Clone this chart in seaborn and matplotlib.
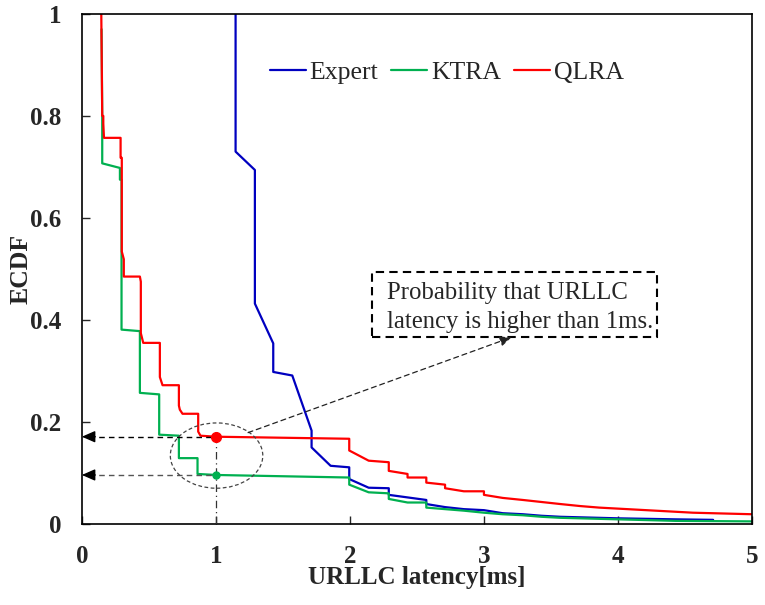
import numpy as np
import pandas as pd
import matplotlib
matplotlib.use("Agg")
import matplotlib.pyplot as plt
import seaborn as sns
from matplotlib.patches import Ellipse, Rectangle

# ---------------- data ----------------
qlra_x = [0.145, 0.152, 0.160, 0.160, 0.165, 0.289, 0.289, 0.298, 0.298, 0.313, 0.313,
          0.433, 0.440, 0.440, 0.458, 0.582, 0.582, 0.602, 0.724, 0.724, 0.731, 0.751,
          0.868, 0.868, 0.885, 1.000, 1.995, 1.995, 2.140, 2.290, 2.290, 2.430, 2.430,
          2.570, 2.570, 2.710, 2.710, 2.850, 3.000, 3.000, 3.140, 3.290, 3.430, 3.570,
          3.720, 3.860, 4.000, 4.280, 4.560, 5.000]
qlra_y = [1.000, 0.800, 0.800, 0.785, 0.757, 0.757, 0.718, 0.718, 0.534, 0.519, 0.485,
          0.485, 0.475, 0.374, 0.355, 0.355, 0.288, 0.272, 0.272, 0.232, 0.224, 0.216,
          0.216, 0.181, 0.173, 0.171, 0.167, 0.144, 0.124, 0.121, 0.104, 0.098, 0.091,
          0.091, 0.081, 0.077, 0.070, 0.064, 0.064, 0.057, 0.051, 0.047, 0.043, 0.039,
          0.035, 0.032, 0.030, 0.026, 0.022, 0.019]

ktra_x = [0.147, 0.152, 0.152, 0.284, 0.284, 0.296, 0.296, 0.433, 0.433, 0.577, 0.577,
          0.724, 0.724, 0.863, 0.863, 1.000, 1.995, 1.995, 2.140, 2.290, 2.290, 2.430,
          2.570, 2.570, 2.710, 2.850, 3.000, 3.140, 3.290, 3.430, 3.570, 4.000, 4.430, 5.000]
ktra_y = [0.970, 0.800, 0.707, 0.698, 0.675, 0.675, 0.381, 0.378, 0.257, 0.254, 0.175,
          0.173, 0.129, 0.129, 0.098, 0.096, 0.091, 0.077, 0.062, 0.060, 0.049, 0.042,
          0.042, 0.032, 0.029, 0.026, 0.022, 0.019, 0.017, 0.014, 0.012, 0.009, 0.006, 0.005]

expert_x = [1.147, 1.147, 1.291, 1.291, 1.428, 1.428, 1.570, 1.714, 1.714, 1.856, 1.995,
            1.995, 2.140, 2.290, 2.290, 2.430, 2.570, 2.570, 2.710, 2.850, 3.000, 3.140,
            3.290, 3.430, 3.570, 4.000, 4.430, 4.710]
expert_y = [1.000, 0.730, 0.694, 0.432, 0.354, 0.298, 0.291, 0.183, 0.150, 0.114, 0.111,
            0.088, 0.071, 0.070, 0.057, 0.052, 0.047, 0.039, 0.033, 0.029, 0.027, 0.021,
            0.019, 0.016, 0.014, 0.011, 0.009, 0.008]

series_names = ["Expert", "KTRA", "QLRA"]
series_colors = ["#0000C0", "#00B050", "#FF0000"]

highlight_x = 1.0
qlra_at_1 = 0.171
ktra_at_1 = 0.096

x_ticks = [0, 1, 2, 3, 4, 5]
y_ticks = [0, 0.2, 0.4, 0.6, 0.8, 1.0]
y_tick_labels = ["0", "0.2", "0.4", "0.6", "0.8", "1"]

note_text = "Probability that URLLC\nlatency is higher than 1ms."

# ---------------- build frame ----------------
frames = []
for name, xs, ys in [("Expert", expert_x, expert_y), ("KTRA", ktra_x, ktra_y), ("QLRA", qlra_x, qlra_y)]:
    df = pd.DataFrame({"x": xs, "y": ys, "series": name})
    df["order"] = np.arange(len(xs))
    frames.append(df)
data = pd.concat(frames, ignore_index=True)

sns.set_style("ticks")
plt.rcParams["font.family"] = ["Liberation Serif", "DejaVu Serif"]

fig = plt.figure(figsize=(7.65, 6.05), dpi=100)
ax = fig.add_axes([0.107, 0.134, 0.876, 0.843])

sns.lineplot(data=data, x="x", y="y", hue="series", hue_order=series_names,
             palette=series_colors, sort=False, estimator=None, units="series",
             linewidth=1.6, ax=ax, legend=True)

# highlight markers
ax.plot([highlight_x], [qlra_at_1], "o", color="#FF0000", markersize=7, zorder=5)
ax.plot([highlight_x], [ktra_at_1], "o", color="#00B050", markersize=5, zorder=5)

# vertical dash-dot guide
ax.plot([highlight_x, highlight_x], [0, qlra_at_1], color="#333333", lw=0.9,
        linestyle=(0, (6, 3, 1, 3)), zorder=3)

# horizontal dashed guides with arrowheads at y-axis
for yv, col in [(qlra_at_1, "black"), (ktra_at_1, "#555555")]:
    ax.plot([0.05, highlight_x], [yv, yv], color=col, lw=1.0, linestyle=(0, (4, 3)), zorder=3)
    ax.annotate("", xy=(0, yv), xytext=(0.1, yv),
                arrowprops=dict(arrowstyle="-|>,head_length=0.8,head_width=0.35",
                                color="black", lw=1.0, shrinkA=0, shrinkB=0), zorder=4)

# ellipse
ax.add_patch(Ellipse((1.005, 0.134), 0.69, 0.128, fill=False, edgecolor="#444444",
                     lw=0.9, linestyle=(0, (3, 2)), zorder=4))

# pointer arrow to note
ax.annotate("", xy=(3.206, 0.366), xytext=(1.24, 0.179),
            arrowprops=dict(arrowstyle="-|>,head_length=0.7,head_width=0.3",
                            color="#222222", lw=0.9, linestyle=(0, (4, 3)),
                            shrinkA=0, shrinkB=0), zorder=8)

# note box
ax.add_patch(Rectangle((2.164, 0.366), 2.127, 0.128, fc="white", ec="black", lw=1.5,
                       linestyle=(0, (4, 2.5)), zorder=6))
ax.text(2.276, 0.384, note_text, ha="left", va="baseline", multialignment="left",
        fontsize=17.8, linespacing=1.4, zorder=7)

ax.set_xlim(0, 5)
ax.set_ylim(0, 1)
ax.set_xticks(x_ticks)
ax.set_xticklabels([str(v) for v in x_ticks])
ax.set_yticks(y_ticks)
ax.set_yticklabels(y_tick_labels)
ax.tick_params(direction="in", length=6, width=1, labelsize=18, pad=15)
for lab in ax.get_xticklabels() + ax.get_yticklabels():
    lab.set_fontweight("bold")
ax.set_xlabel("URLLC latency[ms]", fontsize=18, fontweight="bold", labelpad=-1)
ax.set_ylabel("ECDF", fontsize=18.5, fontweight="bold", labelpad=-2)
for sp in ax.spines.values():
    sp.set_visible(True)
    sp.set_linewidth(1.2)
    sp.set_color("black")

handles, labels = ax.get_legend_handles_labels()
leg = ax.legend(handles, labels, ncol=3, frameon=False, loc="center left",
                bbox_to_anchor=(0.265, 0.886), fontsize=18.5, handlelength=1.4,
                handletextpad=0.15, columnspacing=0.5, borderaxespad=0)

fig.savefig("out.png", dpi=100)
